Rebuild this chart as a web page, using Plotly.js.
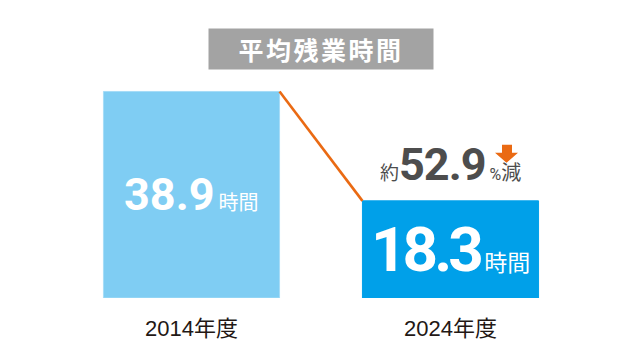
<!DOCTYPE html>
<html>
<head>
<meta charset="utf-8">
<script src="https://cdn.plot.ly/plotly-3.0.1.min.js"></script>
<style>
  html, body { margin: 0; padding: 0; background: #ffffff; }
  #chart { width: 642px; height: 358px; }
</style>
</head>
<body>
<div id="chart"></div>
<script>
// ---- data ----
const categories = ["2014年度", "2024年度"];
const values = [38.9, 18.3];
const valueUnit = "時間";
const chartTitle = "平均残業時間";
const reductionPrefix = "約";
const reductionPct = "52.9";
const reductionPercentSign = "%";
const reductionWord = "減";

// ---- style ----
const barColors = ["#7fcdf3", "#00a0e9"];
const barLineColors = ["#a6dcf7", "#00a0e9"];
const orange = "#ea6a13";
const bargap = 0.32;
const halfBar = (1 - bargap) / 2;
const numFont = "Roboto, 'Noto Sans CJK JP', sans-serif";
const jpFont = "'Noto Sans CJK JP', sans-serif";

const trace = {
  type: "bar",
  x: categories,
  y: values,
  marker: { color: barColors, line: { color: barLineColors, width: 1 } },
  hoverinfo: "skip"
};

const labelSizes = [{ num: 45, unit: 20, ls: 0 }, { num: 62, unit: 23, ls: -4 }];

const annotations = values.map((v, i) => ({
  xref: "x", yref: "y",
  x: categories[i], y: v / 2,
  xanchor: "center", yanchor: "middle",
  showarrow: false,
  text: '<b><span style="font-size:' + labelSizes[i].num + 'px;letter-spacing:' + labelSizes[i].ls + 'px">' + v.toFixed(1) + '</span></b>' +
        '<span style="font-size:' + labelSizes[i].unit + 'px;font-family:Noto Sans CJK JP">\u2009' + valueUnit + '</span>',
  font: { family: numFont, color: "#ffffff", size: 20 }
}));

// reduction annotation above the second bar
annotations.push({
  xref: "x", yref: "y",
  x: categories[1], y: values[1],
  xanchor: "center", yanchor: "bottom",
  yshift: 8,
  showarrow: false,
  text: '<span style="font-size:19px">' + reductionPrefix + '</span>' +
        '<b><span style="font-size:45px;letter-spacing:-1px">' + reductionPct + '</span></b>' +
        '<span style="font-size:16px"> ' + reductionPercentSign + '</span>' +
        '<span style="font-size:20px">' + reductionWord + '</span>',
  font: { family: numFont, color: "#4d4d4d", size: 19 }
});

// title box
annotations.push({
  xref: "paper", yref: "paper",
  x: 0.5, y: 1.1166,
  xanchor: "center", yanchor: "middle",
  showarrow: false,
  width: 224, height: 40,
  bgcolor: "#a3a3a3",
  borderpad: 0,
  text: '<b><span style="letter-spacing:2.5px">' + chartTitle + '</span></b>',
  font: { family: jpFont, color: "#ffffff", size: 25 }
});

const shapes = [
  {
    type: "line", xref: "x", yref: "y",
    x0: 0 + halfBar, y0: values[0],
    x1: 1 - halfBar, y1: values[1],
    line: { color: orange, width: 2.6 }
  },
  {
    type: "path", xref: "x", yref: "y",
    xsizemode: "pixel", ysizemode: "pixel",
    xanchor: 1, yanchor: values[1],
    path: "M 51.5,56 L 61.5,56 L 61.5,48 L 67.5,48 L 56,38 L 44.5,48 L 51.5,48 Z",
    fillcolor: orange, line: { width: 0 }
  }
];

const layout = {
  width: 642, height: 358,
  margin: { l: 62, r: 62, t: 75, b: 60 },
  paper_bgcolor: "#ffffff",
  plot_bgcolor: "#ffffff",
  bargap: bargap,
  showlegend: false,
  xaxis: {
    type: "category",
    range: [-0.5, 1.5],
    showgrid: false, zeroline: false, showline: false,
    ticks: "outside", ticklen: 11, tickcolor: "rgba(0,0,0,0)",
    tickfont: { family: "'Liberation Sans', 'Noto Sans CJK JP', sans-serif", size: 22, color: "#231815" },
    fixedrange: true
  },
  yaxis: {
    range: [0, 42],
    visible: false,
    showgrid: false, zeroline: false,
    fixedrange: true
  },
  annotations: annotations,
  shapes: shapes
};

Plotly.newPlot("chart", [trace], layout, { displayModeBar: false, staticPlot: true });
</script>
</body>
</html>
